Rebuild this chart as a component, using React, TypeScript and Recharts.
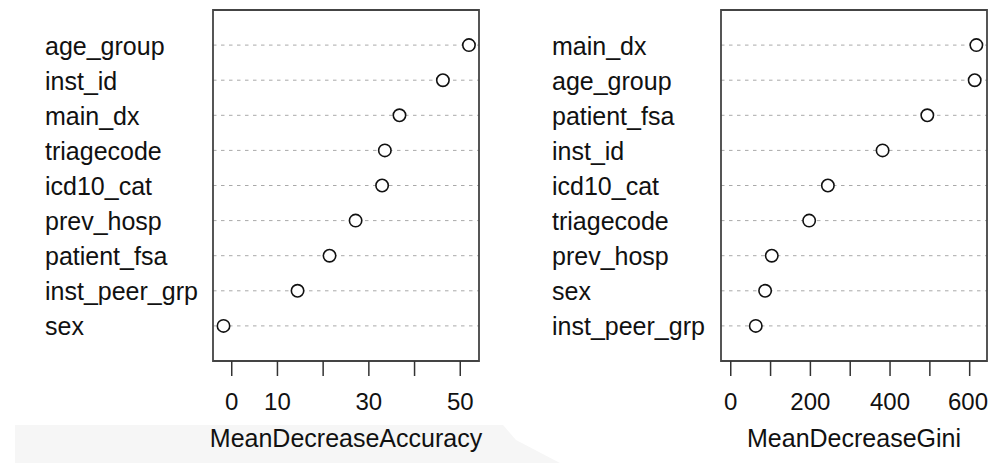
import { ScatterChart, Scatter, XAxis, YAxis, CartesianGrid, ReferenceArea, Label } from "recharts";

// Variable importance, ordered top to bottom as plotted
const accuracyVars = ["age_group", "inst_id", "main_dx", "triagecode", "icd10_cat", "prev_hosp", "patient_fsa", "inst_peer_grp", "sex"];
const accuracyValues = [51.9, 46.2, 36.7, 33.5, 32.9, 27.1, 21.4, 14.4, -1.8];
const accuracyTicks = [0, 10, 20, 30, 40, 50];
const accuracyTickLabels = [0, 10, 30, 50];

const giniVars = ["main_dx", "age_group", "patient_fsa", "inst_id", "icd10_cat", "triagecode", "prev_hosp", "sex", "inst_peer_grp"];
const giniValues = [616.8, 612.6, 493.6, 381.3, 243.9, 196.9, 103.0, 86.3, 62.8];
const giniTicks = [0, 100, 200, 300, 400, 500, 600];
const giniTickLabels = [0, 200, 400, 600];

const FONT = '"Liberation Sans", Arial, Helvetica, sans-serif';
const INK = "#111";
const FONT_SIZE = 25;
const TICK_FONT_SIZE = 24;

// numeric tick label; pulled in a little if it would run past the chart's right edge
const XTick = ({ x, y, payload, labels, chartWidth }: any) => {
  if (!labels.includes(payload.value)) return null;
  const half = String(payload.value).length * 0.278 * TICK_FONT_SIZE;
  const cx = Math.min(x, chartWidth - 1 - half);
  return (
    <text x={cx} y={y} dy="0.71em" textAnchor="middle" fontSize={TICK_FONT_SIZE} fontFamily={FONT} fill={INK}>
      {payload.value}
    </text>
  );
};

const YTick = ({ y, payload, names, labelX }: any) => (
  <text x={labelX} y={y} dy={9.5} textAnchor="start" fontSize={FONT_SIZE} fontFamily={FONT} fill={INK}>
    {names[payload.value]}
  </text>
);

const OpenDot = ({ cx, cy }: any) => (
  <circle cx={cx} cy={cy} r={6.2} fill="#fff" stroke="#111" strokeWidth={1.6} />
);

type PanelProps = {
  vars: string[];
  values: number[];
  ticks: number[];
  tickLabels: number[];
  domain: [number, number];
  title: string;
  width: number;
  labelWidth: number;
  labelX: number;
  rightMargin: number;
};

function DotPanel({ vars, values, ticks, tickLabels, domain, title, width, labelWidth, labelX, rightMargin }: PanelProps) {
  const data = vars.map((name, i) => ({ name, value: values[i], row: i }));
  const rows = vars.map((_, i) => i);
  return (
    <ScatterChart width={width} height={463} margin={{ top: 10, right: rightMargin, bottom: 0, left: 0 }}>
      <CartesianGrid vertical={false} stroke="#a9a9a9" strokeDasharray="3.5 4.5" />
      <XAxis
        type="number"
        dataKey="value"
        domain={domain}
        ticks={ticks}
        interval={0}
        allowDataOverflow
        height={102}
        axisLine={false}
        tickSize={15}
        tickMargin={17}
        tickLine={{ stroke: "#333", strokeWidth: 1.5 }}
        tick={<XTick labels={tickLabels} chartWidth={width} />}
      >
        <Label value={title} position="insideBottom" offset={16} style={{ fontSize: FONT_SIZE, fill: INK, fontFamily: FONT }} />
      </XAxis>
      <YAxis
        type="number"
        dataKey="row"
        domain={[-1, vars.length]}
        ticks={rows}
        interval={0}
        reversed
        width={labelWidth}
        axisLine={false}
        tickLine={false}
        tick={<YTick names={vars} labelX={labelX} />}
      />
      <ReferenceArea
        x1={domain[0]}
        x2={domain[1]}
        y1={-1}
        y2={vars.length}
        fill="none"
        fillOpacity={0}
        stroke="#444"
        strokeWidth={1.8}
        ifOverflow="visible"
      />
      <Scatter data={data} isAnimationActive={false} shape={<OpenDot />} />
    </ScatterChart>
  );
}

export default function App() {
  return (
    <div style={{ position: "absolute", left: 0, top: 0, width: 989, height: 463, background: "#fff", overflow: "hidden" }}>
      <svg width={989} height={463} style={{ position: "absolute", left: 0, top: 0 }}>
        <polygon points="15,425 503,425 516,440 560,463 15,463" fill="#f6f6f6" />
      </svg>
      <div style={{ position: "absolute", left: 0, top: 0 }}>
        <DotPanel
          vars={accuracyVars}
          values={accuracyValues}
          ticks={accuracyTicks}
          tickLabels={accuracyTickLabels}
          domain={[-4.1, 54.1]}
          title="MeanDecreaseAccuracy"
          width={500}
          labelWidth={213}
          labelX={45}
          rightMargin={21}
        />
      </div>
      <div style={{ position: "absolute", left: 500, top: 0 }}>
        <DotPanel
          vars={giniVars}
          values={giniValues}
          ticks={giniTicks}
          tickLabels={giniTickLabels}
          domain={[-24.5, 643.5]}
          title="MeanDecreaseGini"
          width={489}
          labelWidth={221}
          labelX={52}
          rightMargin={2}
        />
      </div>
    </div>
  );
}
